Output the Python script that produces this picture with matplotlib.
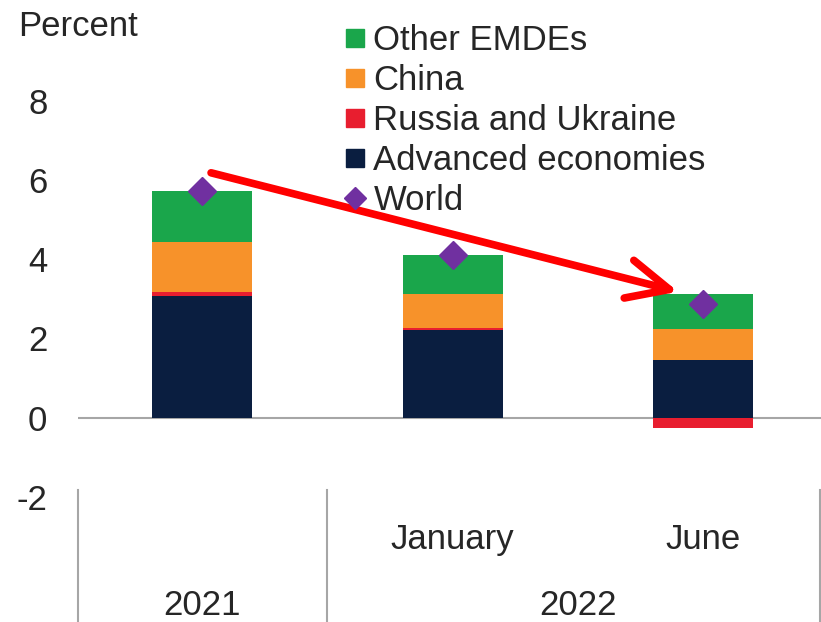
import numpy as np
import matplotlib.pyplot as plt
from matplotlib.lines import Line2D

plt.rcParams['font.family'] = ['Liberation Sans', 'DejaVu Sans']

# values (percent)
periods = ['2021', 'January', 'June']
advanced = [3.08, 2.21, 1.46]
russia = [0.10, 0.05, -0.27]
china = [1.25, 0.87, 0.79]
other = [1.28, 0.97, 0.87]
world = [5.72, 4.10, 2.88]

sub_labels = ['', 'January', 'June']
year_labels = ['2021', '2022']
legend_labels = ['Other EMDEs', 'China', 'Russia and Ukraine', 'Advanced economies', 'World']

c_other = '#1aa64b'
c_china = '#f7922a'
c_russia = '#e81e2f'
c_adv = '#0a1e40'
c_world = '#7030a0'
txt = '#262626'
fs = 25

fig = plt.figure(figsize=(8.21, 6.22), dpi=100)
ax = fig.add_axes([0.095, 0.201, 0.905, 0.669])

x = np.arange(len(periods))
w = 0.4

pos = np.zeros(len(x))
neg = np.zeros(len(x))
for vals, col in [(advanced, c_adv), (russia, c_russia), (china, c_china), (other, c_other)]:
  vals = np.array(vals)
  bottom = np.where(vals >= 0, pos, neg)
  ax.bar(x, vals, w, bottom=bottom, color=col, zorder=2)
  pos = pos + np.where(vals >= 0, vals, 0)
  neg = neg + np.where(vals < 0, vals, 0)

ax.plot(x, world, linestyle='none', marker='D', markersize=14, color=c_world, zorder=3)

ax.axhline(0, color='#a6a6a6', lw=1.5, zorder=1)
ax.set_xlim(-0.495, 2.47)
ax.set_ylim(-2, 8.5)
ax.set_yticks([-2, 0, 2, 4, 6, 8])
ax.set_yticklabels(['-2', '0', '2', '4', '6', '8'], color=txt)
ax.tick_params(axis='y', length=0, pad=22, labelsize=fs)
ax.set_xticks([])
for s in ax.spines.values():
  s.set_visible(False)

# two-level category axis
tr = ax.get_xaxis_transform()
for xi, lab in zip(x, sub_labels):
  ax.text(xi, -0.103, lab, transform=tr, ha='center', va='center', fontsize=fs, color=txt)
ax.text(0, -0.26, year_labels[0], transform=tr, ha='center', va='center', fontsize=fs, color=txt)
ax.text(1.5, -0.26, year_labels[1], transform=tr, ha='center', va='center', fontsize=fs, color=txt)
for xv in [-0.495, 0.5, 2.465]:
  ax.plot([xv, xv], [0.017, -0.32], transform=tr, color='#a6a6a6', lw=1.5, clip_on=False)

fig.text(0.022, 0.958, 'Percent', fontsize=fs, color=txt, va='center')

handles = [
  Line2D([], [], linestyle='none', marker='s', markersize=12.5, color=c_other),
  Line2D([], [], linestyle='none', marker='s', markersize=12.5, color=c_china),
  Line2D([], [], linestyle='none', marker='s', markersize=12.5, color=c_russia),
  Line2D([], [], linestyle='none', marker='s', markersize=12.5, color=c_adv),
  Line2D([], [], linestyle='none', marker='D', markersize=11, color=c_world),
]
fig.legend(handles, legend_labels, loc='upper left', bbox_to_anchor=(0.421, 0.961), frameon=False,
           fontsize=fs, handlelength=0.55, handletextpad=0.25, labelspacing=0.2,
           borderaxespad=0, borderpad=0, labelcolor=txt)

# red arrow
ax.annotate('', xy=(1.90, 3.18), xytext=(0.036, 6.18),
            arrowprops=dict(arrowstyle='->,head_length=3.0,head_width=1.4', color='#ff0000', lw=5.5,
                            shrinkA=0, shrinkB=0, capstyle='round'),
            zorder=4)

fig.savefig('out.png')
